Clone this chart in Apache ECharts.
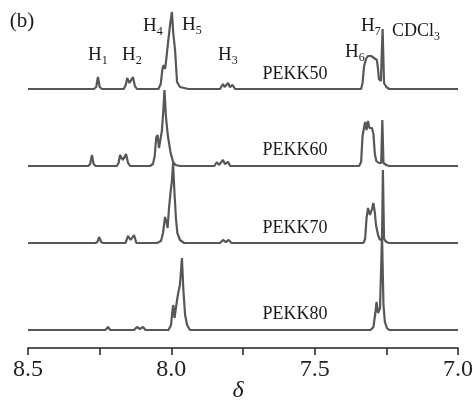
<!DOCTYPE html>
<html>
<head>
<meta charset="utf-8">
<script src="https://cdn.jsdelivr.net/npm/echarts@6/dist/echarts.min.js"></script>
<style>
  html, body { margin: 0; padding: 0; background: #fff; }
  #nmr { width: 473px; height: 404px; }
</style>
</head>
<body>
<div id="nmr"></div>
<script>
// spectra: [chemical shift (ppm), intensity above own baseline]
const pekk50 = [
  [8.5, 0], [8.27, 0], [8.262, 2], [8.256, 12], [8.25, 2], [8.242, 0],
  [8.166, 0], [8.159, 4], [8.154, 11], [8.146, 6], [8.134, 12], [8.127, 3], [8.12, 0],
  [8.045, 0], [8.037, 5], [8.031, 20], [8.027, 24], [8.022, 20], [8.019, 26], [8.012, 45],
  [8.004, 65], [7.998, 77], [7.993, 55], [7.987, 39], [7.98, 7], [7.97, 2], [7.955, 1], [7.94, 0],
  [7.83, 0], [7.82, 5], [7.814, 2], [7.802, 6], [7.796, 2], [7.786, 4], [7.778, 0],
  [7.338, 0], [7.333, 6], [7.328, 22], [7.321, 30], [7.314, 33], [7.303, 33], [7.293, 31],
  [7.283, 29], [7.279, 20], [7.276, 10], [7.269, 8], [7.263, 60], [7.258, 6], [7.25, 2], [7.24, 0],
  [7.0, 0]
];
const pekk60 = [
  [8.5, 0], [8.29, 0], [8.283, 2], [8.277, 11], [8.271, 2], [8.264, 0],
  [8.19, 0], [8.184, 3], [8.179, 11], [8.169, 6], [8.158, 12], [8.151, 3], [8.144, 0],
  [8.075, 0], [8.064, 2], [8.058, 10], [8.053, 28], [8.048, 31], [8.043, 18], [8.038, 16],
  [8.033, 35], [8.028, 55], [8.024, 76], [8.019, 50], [8.012, 30], [8.003, 14], [7.994, 4],
  [7.985, 1], [7.97, 0],
  [7.85, 0], [7.841, 4], [7.834, 1], [7.82, 6], [7.813, 2], [7.802, 4], [7.795, 0],
  [7.345, 0], [7.338, 4], [7.333, 30], [7.328, 38], [7.324, 44], [7.319, 36], [7.314, 45],
  [7.309, 38], [7.3, 38], [7.295, 32], [7.29, 12], [7.285, 5], [7.276, 3], [7.268, 3],
  [7.264, 46], [7.26, 3], [7.25, 1], [7.24, 0],
  [7.0, 0]
];
const pekk70 = [
  [8.5, 0], [8.265, 0], [8.258, 1], [8.252, 6], [8.245, 1], [8.238, 0],
  [8.16, 0], [8.151, 7], [8.142, 3], [8.13, 8], [8.122, 0],
  [8.05, 0], [8.036, 2], [8.029, 10], [8.022, 26], [8.019, 28], [8.016, 20], [8.013, 15],
  [8.008, 35], [8.003, 50], [7.998, 62], [7.994, 80], [7.989, 50], [7.984, 25], [7.979, 10],
  [7.97, 3], [7.955, 0],
  [7.83, 0], [7.82, 3], [7.81, 1], [7.8, 3], [7.79, 0],
  [7.33, 0], [7.324, 4], [7.319, 25], [7.314, 35], [7.307, 28], [7.3, 34], [7.295, 40],
  [7.29, 30], [7.286, 18], [7.279, 8], [7.272, 3], [7.265, 5], [7.262, 73], [7.258, 4],
  [7.25, 1], [7.24, 0],
  [7.0, 0]
];
const pekk80 = [
  [8.5, 0], [8.23, 0], [8.221, 3], [8.213, 0],
  [8.13, 0], [8.12, 3], [8.11, 1], [8.099, 3], [8.09, 0],
  [8.01, 0], [8.001, 5], [7.996, 20], [7.993, 25], [7.989, 12], [7.986, 10], [7.98, 30],
  [7.976, 37], [7.97, 45], [7.963, 72], [7.958, 40], [7.952, 15], [7.945, 5], [7.935, 0],
  [7.305, 0], [7.295, 3], [7.288, 18], [7.284, 28], [7.279, 17], [7.272, 22], [7.265, 95],
  [7.26, 25], [7.255, 8], [7.248, 2], [7.24, 0],
  [7.0, 0]
];
const traceNames = ['PEKK50', 'PEKK60', 'PEKK70', 'PEKK80'];
const traces = [pekk50, pekk60, pekk70, pekk80];
const tickLabels = ['8.5', '8.0', '7.5', '7.0'];

// vertical stacking of the traces (baseline heights)
const baselines = [259, 182, 105, 18];

const serif = '"Liberation Serif", "DejaVu Serif", serif';
const lineColor = '#575757';

var chart = echarts.init(document.getElementById('nmr'));

function label(text, x, y, size, italic) {
  return {
    type: 'text', x: x, y: y, silent: true,
    style: {
      text: text, fill: '#1a1a1a', fontFamily: serif, fontSize: size,
      fontStyle: italic ? 'italic' : 'normal',
      textAlign: 'center', textVerticalAlign: 'middle'
    }
  };
}
// H with a subscript number
function subLabel(main, sub, x, y) {
  return {
    type: 'text', x: x, y: y, silent: true,
    style: {
      text: '{m|' + main + '}{s|' + sub + '}',
      fill: '#1a1a1a', fontFamily: serif, fontSize: 19,
      textAlign: 'left', textVerticalAlign: 'top',
      rich: {
        m: { fontFamily: serif, fontSize: 19, fill: '#1a1a1a', verticalAlign: 'top' },
        s: { fontFamily: serif, fontSize: 12, fill: '#1a1a1a', verticalAlign: 'top', padding: [9, 0, 0, 0] }
      }
    }
  };
}

var series = traces.map(function (tr, i) {
  return {
    name: traceNames[i],
    type: 'line',
    showSymbol: false,
    silent: true,
    lineStyle: { color: lineColor, width: 2.2 },
    data: tr.map(function (p) { return [p[0], p[1] + baselines[i]]; })
  };
});

chart.setOption({
  animation: false,
  grid: { left: 28, right: 15, top: 10, bottom: 56, outerBoundsMode: 'none', containLabel: false },
  xAxis: {
    type: 'value',
    inverse: true,
    min: 7.0,
    max: 8.5,
    interval: 0.25,
    axisLine: { lineStyle: { color: '#222', width: 1.5 } },
    axisTick: { length: 7, lineStyle: { color: '#222', width: 1.5 } },
    splitLine: { show: false },
    axisLabel: {
      margin: 10,
      color: '#222',
      fontFamily: serif,
      fontSize: 24,
      formatter: function (v) {
        var s = v.toFixed(1);
        return tickLabels.indexOf(s) >= 0 && Math.abs(v * 2 - Math.round(v * 2)) < 1e-6 ? s : '';
      }
    }
  },
  yAxis: { type: 'value', min: 0, max: 338, show: false },
  series: series,
  graphic: [
    label('(b)', 22, 21, 21),
    label('δ', 238, 391, 24, true),
    subLabel('H', '1', 88, 46),
    subLabel('H', '2', 122, 46),
    subLabel('H', '4', 143, 17),
    subLabel('H', '5', 182, 16),
    subLabel('H', '3', 218, 46),
    subLabel('H', '6', 345, 43),
    subLabel('H', '7', 361, 17),
    {
      type: 'text', x: 392, y: 22, silent: true,
      style: {
        text: '{m|CDCl}{s|3}', fill: '#1a1a1a', fontFamily: serif, fontSize: 18,
        textAlign: 'left', textVerticalAlign: 'top',
        rich: {
          m: { fontFamily: serif, fontSize: 18, fill: '#1a1a1a', verticalAlign: 'top' },
          s: { fontFamily: serif, fontSize: 12, fill: '#1a1a1a', verticalAlign: 'top', padding: [9, 0, 0, 0] }
        }
      }
    },
    label(traceNames[0], 295, 74, 18),
    label(traceNames[1], 295, 150, 18),
    label(traceNames[2], 295, 228, 18),
    label(traceNames[3], 295, 314, 18)
  ]
});
</script>
</body>
</html>
